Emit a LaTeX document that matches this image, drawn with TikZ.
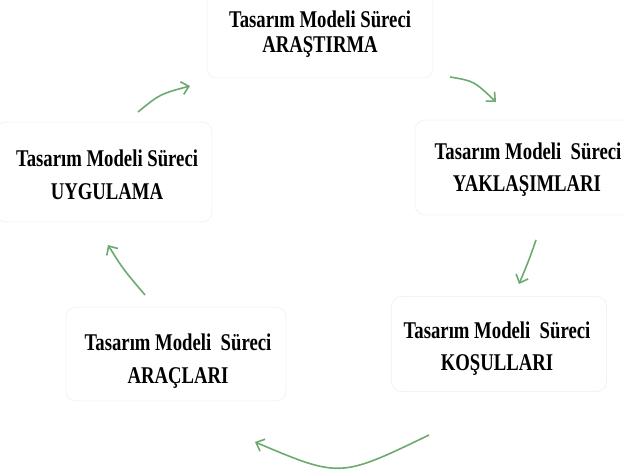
\documentclass[tikz,border=0pt]{standalone}
\usepackage{fontspec}
\usetikzlibrary{arrows.meta}
\newfontfamily\boxfont{Liberation Serif}[FakeStretch=0.78]
\definecolor{arrowgreen}{RGB}{108,170,112}
\definecolor{boxline}{RGB}{243,243,243}
\tikzset{
  panel/.style={draw=boxline, line width=0.8pt, fill=white, rounded corners=10pt, inner sep=0pt},
  label/.style={font=\boxfont\bfseries\fontsize{24}{28}\selectfont, anchor=base, inner sep=0pt},
  cyc/.style={draw=arrowgreen, line width=1.6pt, -{Straight Barb[length=7pt,width=13pt,line width=1.6pt]}}
}
\begin{document}
\begin{tikzpicture}[x=1pt,y=-1pt]
\useasboundingbox (0,0) rectangle (624,473);
% boxes
\node[panel, minimum width=226pt, minimum height=92pt] (b1) at (320,32) {};
\node[panel, minimum width=224pt, minimum height=95pt] (b2) at (527,167.5) {};
\node[panel, minimum width=216pt, minimum height=100pt] (b5) at (104,172) {};
\node[panel, minimum width=215pt, minimum height=95pt] (b3) at (499,344) {};
\node[panel, minimum width=220pt, minimum height=94pt] (b4) at (176,354) {};
% texts
\node[label] (t1a) at (320,28) {Tasarım Modeli Süreci};
\node[label] (t1b) at (320,53) {ARAŞTIRMA};
\node[label] (t2a) at (528,160) {Tasarım Modeli\ \ Süreci};
\node[label] (t2b) at (527,192) {YAKLAŞIMLARI};
\node[label] (t3a) at (497,338) {Tasarım Modeli\ \ Süreci};
\node[label] (t3b) at (497,370) {KOŞULLARI};
\node[label] (t4a) at (178,350) {Tasarım Modeli\ \ Süreci};
\node[label] (t4b) at (178,383) {ARAÇLARI};
\node[label] (t5a) at (107,167) {Tasarım Modeli Süreci};
\node[label] (t5b) at (107,200) {UYGULAMA};
% arrow end points
\coordinate (a1s) at (138,112); \coordinate (a1e) at (190,86);
\coordinate (a2s) at (450,77);  \coordinate (a2e) at (496,102);
\coordinate (a3s) at (536,240); \coordinate (a3e) at (519,284);
\coordinate (a4s) at (429,435); \coordinate (a4e) at (255,442);
\coordinate (a5s) at (145,295); \coordinate (a5e) at (108,245);
% arrows
\draw[cyc] (a1s) .. controls (160,94) .. (a1e);
\draw[cyc] (a2s) .. controls (474,81) .. (a2e);
\draw[cyc] (a3s) .. controls (529,260) .. (a3e);
\draw[cyc] (a4s) .. controls (340,478) .. (a4e);
\draw[cyc] (a5s) .. controls (123,269) .. (a5e);
\end{tikzpicture}
\end{document}
